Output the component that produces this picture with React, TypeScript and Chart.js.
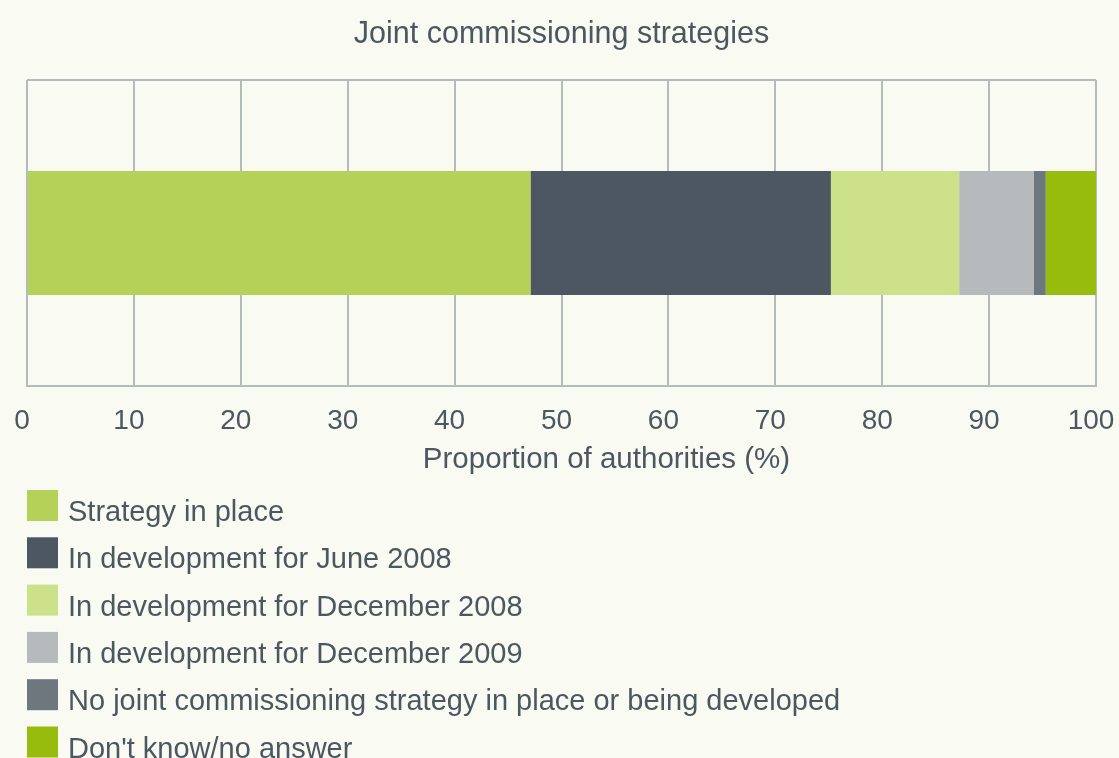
import React, { useEffect, useRef } from "react";
import { Chart, registerables } from "chart.js";

Chart.register(...registerables);

const titleText = "Joint commissioning strategies";
const axisTitle = "Proportion of authorities (%)";
const categories = [""];
const seriesLabels = [
  "Strategy in place",
  "In development for June 2008",
  "In development for December 2008",
  "In development for December 2009",
  "No joint commissioning strategy in place or being developed",
  "Don't know/no answer",
];
const seriesValues = [47.1, 28.1, 12.0, 7.0, 1.1, 4.7];
const seriesColors = ["#b5d157", "#4c5761", "#cde08a", "#b6babc", "#6e767e", "#97bc0d"];
const tickStep = 10;
const xMin = 0;
const xMax = 100;

const TEXT = "#4d5761";
const GRID = "#b5babb";
const BG = "#f9faf2";
const FONT = "'Liberation Sans', Arial, sans-serif";

const legendPlugin = {
  id: "stackLegend",
  afterDraw(chart: any) {
    const ctx = chart.ctx;
    const startY = 490;
    const step = 47.3;
    const box = 31;
    ctx.save();
    // axis title (offset to the right of the plot centre, as in the source)
    ctx.fillStyle = TEXT;
    ctx.font = `29.5px ${FONT}`;
    ctx.textAlign = "center";
    ctx.textBaseline = "middle";
    const ca = chart.chartArea;
    ctx.fillText(axisTitle, (ca.left + ca.right) / 2 + 45, ca.bottom + 74);
    chart.data.datasets.forEach((ds: any, i: number) => {
      const y = startY + i * step;
      ctx.fillStyle = ds.backgroundColor;
      ctx.fillRect(27, y, box, box);
      ctx.fillStyle = TEXT;
      ctx.font = `29px ${FONT}`;
      ctx.textBaseline = "alphabetic";
      ctx.textAlign = "left";
      ctx.fillText(ds.label, 68, y + box);
    });
    ctx.restore();
  },
};

export default function App() {
  const ref = useRef<HTMLCanvasElement | null>(null);
  useEffect(() => {
    if (!ref.current) return;
    const chart = new Chart(ref.current, {
      type: "bar",
      data: {
        labels: categories,
        datasets: seriesLabels.map((label, i) => ({
          label,
          data: [seriesValues[i]],
          backgroundColor: seriesColors[i],
          borderWidth: 0,
          barPercentage: 0.405,
          categoryPercentage: 1,
        })),
      },
      options: {
        indexAxis: "y",
        animation: false,
        responsive: true,
        maintainAspectRatio: false,
        layout: { padding: { left: 27, right: 23, top: 0, bottom: 302.4 } },
        plugins: {
          legend: { display: false },
          tooltip: { enabled: false },
          title: {
            display: true,
            text: titleText,
            color: TEXT,
            font: { family: FONT, size: 30.5, weight: "normal" },
            padding: { top: 16, bottom: 27.4 },
          },
        },
        scales: {
          x: {
            stacked: true,
            min: xMin,
            max: xMax,
            afterFit: (scale: any) => {
              scale.paddingLeft = 0;
              scale.paddingRight = 0;
            },
            ticks: {
              stepSize: tickStep,
              color: TEXT,
              font: { family: FONT, size: 28 },
              padding: 18,
              labelOffset: -5,
              maxRotation: 0,
            },
            grid: { color: GRID, lineWidth: 2, drawTicks: false },
            border: { color: GRID, width: 2 },
            title: { display: false },
          },
          y: {
            stacked: true,
            ticks: { display: false },
            grid: { color: GRID, lineWidth: 2, drawTicks: false },
            border: { display: false },
          },
        },
      },
      plugins: [legendPlugin],
    });
    return () => chart.destroy();
  }, []);
  return (
    <div style={{ position: "fixed", left: 0, top: 0, width: 1119, height: 758, background: BG }}>
      <canvas ref={ref} />
    </div>
  );
}
